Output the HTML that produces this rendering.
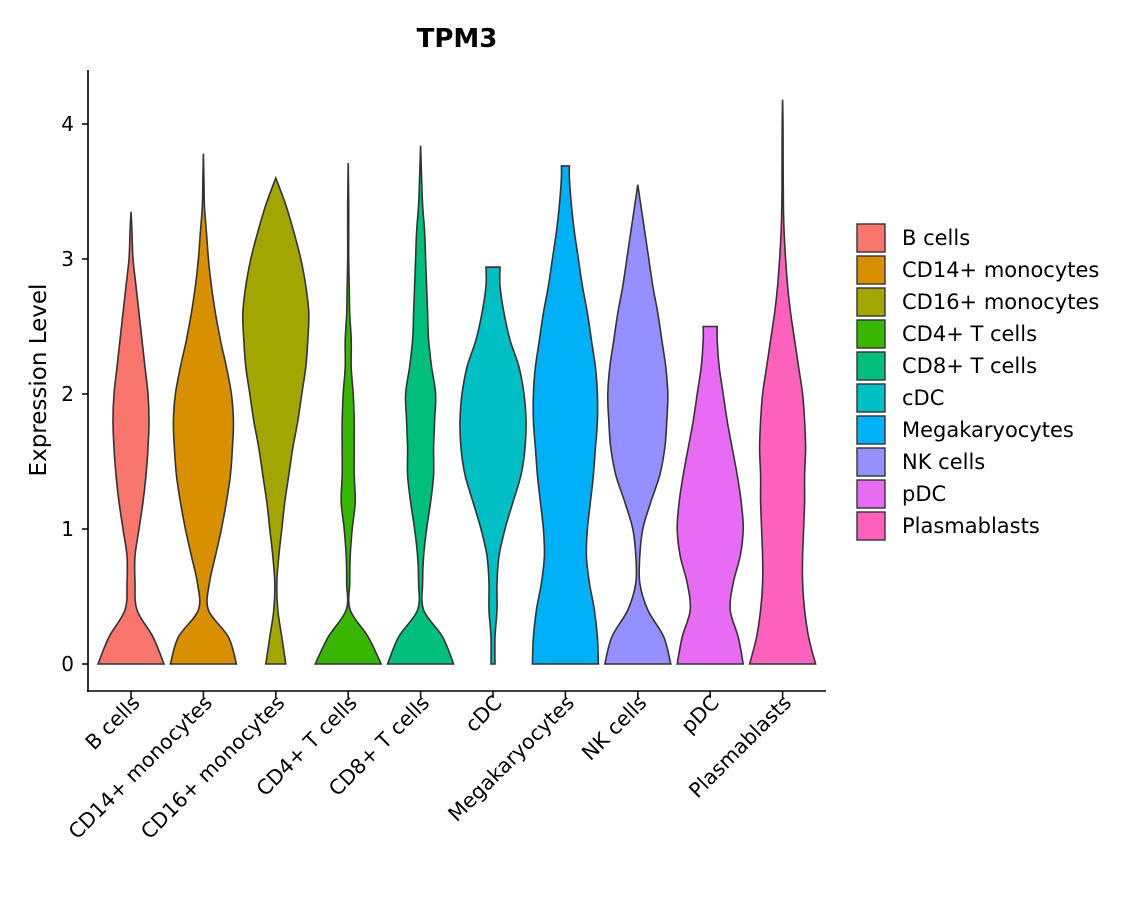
<!DOCTYPE html>
<html><head><meta charset="utf-8"><style>
body{margin:0;background:#fff;}
text{font-family:"DejaVu Sans","Liberation Sans",sans-serif;}
</style></head><body>
<svg id="chart" width="1140" height="900" xmlns="http://www.w3.org/2000/svg">
<text x="457" y="47" font-size="26" font-weight="bold" text-anchor="middle">TPM3</text>
<text transform="translate(46,380) rotate(-90)" font-size="23" text-anchor="middle">Expression Level</text>
<g id="plot"></g>
<g id="legend"></g>
</svg>
<script>
const categories=["B cells","CD14+ monocytes","CD16+ monocytes","CD4+ T cells","CD8+ T cells","cDC","Megakaryocytes","NK cells","pDC","Plasmablasts"];
const colors=["#F8766D","#D89000","#A3A500","#39B600","#00BF7D","#00BFC4","#00B0F6","#9590FF","#E76BF3","#FF62BC"];
const yTicks=[0,1,2,3,4];
const maxValues=[3.35,3.78,3.6,3.71,3.84,2.94,3.69,3.55,2.5,4.18];
const flatTop=[false,false,false,false,false,true,true,false,true,false];
// half-widths (relative, max 33) at y = 0, 0.2, 0.4, ...
const dB=[33,22,6,4,4,8,12,15,17,18,17,14,11,8,5,2,1];
const dCD14=[33,25,5,6,12,18,23,27,29,30,28,23,17,12,8,5,3,1,0.5];
const dCD16=[10,6,2,1,3,6,9,13,17,22,26,30,32,33,30,25,18,10];
const dCD4=[33,20,2,1.5,2,4,7,6,6,6,5,3,3,1.5,1,0.5,0.5,0.5];
const dCD8=[33,22,3,2,3,6,10,13,13,14,15,11,8,7,6,5,4,2,1];
const dcDC=[2,2,4,4,6,12,20,28,32,33,31,26,17,11,7];
const dMega=[33,32,29,24,21,22,25,28,30,32,32,30,26,22,17,13,9,6,4];
const dNK=[33,26,10,2,2,5,13,22,27,29,30,28,24,20,15,11,7,3];
const dpDC=[33,28,20,23,30,33,31,27,22,17,13,9,7];
const dPlasma=[33,26,22,20,20,21,22,22,23,22,20,16,12,8,5,3,1.5,0.8,0.6,0.5,0.4];
const densities=[dB,dCD14,dCD16,dCD4,dCD8,dcDC,dMega,dNK,dpDC,dPlasma];

const NS="http://www.w3.org/2000/svg";
const X0=88,X1=826,Y0=664,PX=135,STEP=72.4,XC0=131,HW=33;
const yS=v=>Y0-v*PX;
const xS=i=>XC0+i*STEP;
const plot=document.getElementById('plot');
function mk(tag,attrs,parent){const e=document.createElementNS(NS,tag);for(const k in attrs)e.setAttribute(k,attrs[k]);(parent||plot).appendChild(e);return e;}
function spline(pts){let d="";for(let i=0;i<pts.length-1;i++){const p0=pts[Math.max(0,i-1)],p1=pts[i],p2=pts[i+1],p3=pts[Math.min(pts.length-1,i+2)];
const c1=[p1[0]+(p2[0]-p0[0])/6,p1[1]+(p2[1]-p0[1])/6],c2=[p2[0]-(p3[0]-p1[0])/6,p2[1]-(p3[1]-p1[1])/6];
d+=` C${c1[0].toFixed(1)},${c1[1].toFixed(1)} ${c2[0].toFixed(1)},${c2[1].toFixed(1)} ${p2[0].toFixed(1)},${p2[1].toFixed(1)}`;}return d;}
categories.forEach((c,i)=>{
  const dens=densities[i],cx=xS(i),top=maxValues[i];
  const prof=[];
  dens.forEach((w,k)=>{const y=k*0.2;if(y<top-0.02)prof.push([y,w]);});
  const lastW=flatTop[i]?Math.max(dens[Math.min(dens.length-1,Math.round(top/0.2))],3):0;
  prof.push([top,lastW]);
  const mx=Math.max(...dens);
  const sc=HW/mx;
  const left=prof.map(p=>[cx-p[1]*sc,yS(p[0])]);
  const right=prof.map(p=>[cx+p[1]*sc,yS(p[0])]).reverse();
  let d=`M${left[0][0].toFixed(1)},${left[0][1].toFixed(1)}`+spline(left);
  d+=` L${right[0][0].toFixed(1)},${right[0][1].toFixed(1)}`+spline(right)+" Z";
  const p=mk('path',{d:d,fill:colors[i],stroke:'#333','stroke-width':1.6});
  
  
  const t=mk('line',{x1:cx,x2:cx,y1:691,y2:698,stroke:'#000','stroke-width':1.5});
  
  
  const l=mk('text',{transform:`translate(${cx+10},${704}) rotate(-45)`,'font-size':20.5,'text-anchor':'end'});
  l.textContent=c;
  
  
});
yTicks.forEach(v=>{
  const t=mk('line',{x1:82,x2:88,y1:yS(v),y2:yS(v),stroke:'#000','stroke-width':1.5});
  
  
  const l=mk('text',{x:74,y:yS(v)+7,'font-size':20,'text-anchor':'end'});
  l.textContent=v;
  
  
});
const ax=mk('line',{x1:88,x2:88,y1:70,y2:692,stroke:'#000','stroke-width':1.6});


const axx=mk('line',{x1:87,x2:826,y1:691,y2:691,stroke:'#000','stroke-width':1.6});


const lg=document.getElementById('legend');
categories.forEach((c,i)=>{
  const y=238+i*32;
  const g=mk('g',{},lg);
  
  
  mk('rect',{x:857,y:y-14,width:28,height:28,fill:colors[i],stroke:'#333','stroke-width':1.4},g);
  const t=mk('text',{x:902,y:y+7,'font-size':21},g);
  t.textContent=c;
});
</script>
</body></html>
